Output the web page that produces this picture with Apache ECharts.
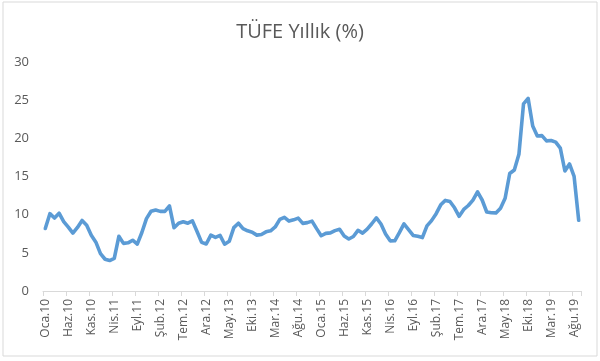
<!DOCTYPE html>
<html><head><meta charset="utf-8">
<script src="https://cdn.jsdelivr.net/npm/echarts@6/dist/echarts.min.js"></script>
<style>html,body{margin:0;padding:0;background:#fff}#c{width:600px;height:361px}</style>
</head><body><div id="c"></div>
<script>
const monthNames = ['Oca','Şub','Mar','Nis','May','Haz','Tem','Ağu','Eyl','Eki','Kas','Ara'];
const years = ['10','11','12','13','14','15','16','17','18','19'];
const categories = [];
for (const y of years) for (const m of monthNames) categories.push(m + '.' + y);
categories.length = 117; // Oca.10 .. Eyl.19
const cpi2010 = [8.19,10.13,9.56,10.19,9.10,8.37,7.58,8.33,9.24,8.62,7.29,6.40];
const cpi2011 = [4.90,4.16,3.99,4.26,7.17,6.24,6.31,6.65,6.15,7.66,9.48,10.45];
const cpi2012 = [10.61,10.43,10.43,11.14,8.28,8.87,9.07,8.88,9.19,7.80,6.37,6.16];
const cpi2013 = [7.31,7.03,7.29,6.13,6.51,8.30,8.88,8.17,7.88,7.71,7.32,7.40];
const cpi2014 = [7.75,7.89,8.39,9.38,9.66,9.16,9.32,9.54,8.86,8.96,9.15,8.17];
const cpi2015 = [7.24,7.55,7.61,7.91,8.09,7.20,6.81,7.14,7.95,7.58,8.10,8.81];
const cpi2016 = [9.58,8.78,7.46,6.57,6.58,7.64,8.79,8.05,7.28,7.16,7.00,8.53];
const cpi2017 = [9.22,10.13,11.29,11.87,11.72,10.90,9.79,10.68,11.20,11.90,12.98,11.92];
const cpi2018 = [10.35,10.26,10.23,10.85,12.15,15.39,15.85,17.90,24.52,25.24,21.62,20.30];
const cpi2019 = [20.35,19.67,19.71,19.50,18.71,15.72,16.65,15.01,9.26];
const values = [].concat(cpi2010,cpi2011,cpi2012,cpi2013,cpi2014,cpi2015,cpi2016,cpi2017,cpi2018,cpi2019);
const yTicks = [0,5,10,15,20,25,30];

const chart = echarts.init(document.getElementById('c'), null, {renderer:'canvas'});
chart.setOption({
  animation:false,
  backgroundColor:'#fff',
  title:{text:'TÜFE Yıllık (%)',left:'center',top:17,textStyle:{fontFamily:'Open Sans',fontSize:20,fontWeight:'normal',color:'#595959'}},
  graphic:[{type:'rect',shape:{x:3,y:2,width:594,height:354},style:{fill:'none',stroke:'#d9d9d9',lineWidth:1},silent:true}],
  grid:{left:43,right:19,top:62,bottom:70},
  xAxis:{type:'category',data:categories,boundaryGap:true,
    axisLine:{lineStyle:{color:'#d9d9d9'}},
    axisTick:{show:true,interval:4,length:5,lineStyle:{color:'#d9d9d9'}},
    axisLabel:{interval:4,rotate:90,color:'#595959',fontFamily:'Open Sans',fontSize:12,margin:8}},
  yAxis:{type:'value',min:yTicks[0],max:yTicks[yTicks.length-1],interval:5,
    splitLine:{show:false},axisLine:{show:false},axisTick:{show:false},
    axisLabel:{color:'#595959',fontFamily:'Open Sans',fontSize:13,margin:14}},
  series:[{type:'line',data:values,symbol:'none',lineStyle:{color:'#5b9bd5',width:3.6,join:'round',cap:'round'}}]
});
</script></body></html>
